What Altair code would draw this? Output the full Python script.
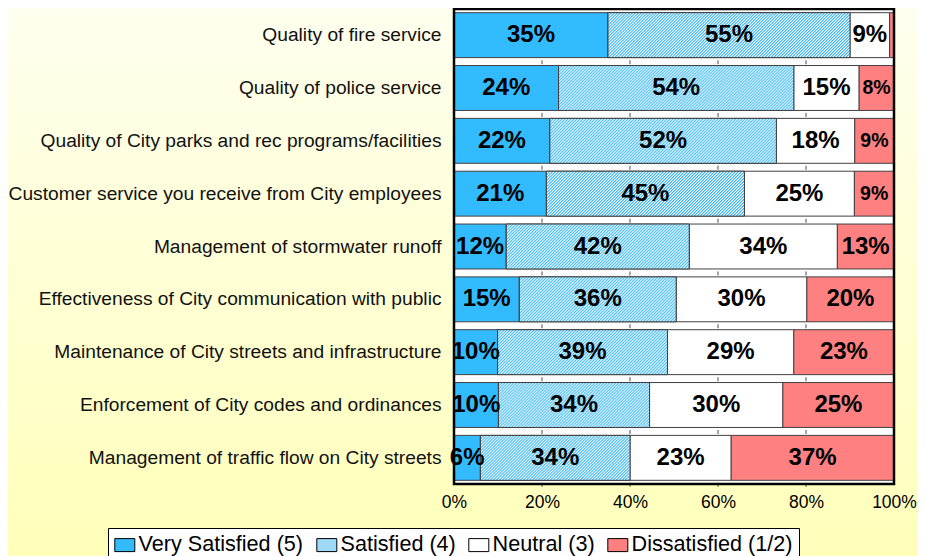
import urllib.parse
import altair as alt
import pandas as pd

# ---------------- data ----------------
questions = [
    "Quality of fire service",
    "Quality of police service",
    "Quality of City parks and rec programs/facilities",
    "Customer service you receive from City employees",
    "Management of stormwater runoff",
    "Effectiveness of City communication with public",
    "Maintenance of City streets and infrastructure",
    "Enforcement of City codes and ordinances",
    "Management of traffic flow on City streets",
]
categories = ["Very Satisfied (5)", "Satisfied (4)", "Neutral (3)", "Dissatisfied (1/2)"]
very_satisfied = [35, 24, 22, 21, 12, 15, 10, 10, 6]
satisfied = [55, 54, 52, 45, 42, 36, 39, 34, 34]
neutral = [9, 15, 18, 25, 34, 30, 29, 30, 23]
dissatisfied = [1, 8, 9, 9, 13, 20, 23, 25, 37]
x_tick_values = [0, 0.2, 0.4, 0.6, 0.8, 1.0]
inner_tick_values = [0.2, 0.4, 0.6, 0.8]

series = [very_satisfied, satisfied, neutral, dissatisfied]
rows = []
for qi, q in enumerate(questions):
    for ci, c in enumerate(categories):
        rows.append({"question": q, "category": c, "order": ci, "value": series[ci][qi]})
df = pd.DataFrame(rows)

tick_df = pd.DataFrame([{"question": q, "pos": t} for q in questions for t in inner_tick_values])

# ---------------- styles ----------------
W, H = 440, 475
FONT = "Liberation Sans"
BLUE = "#33BBFF"
RED = "#FF8080"
HATCH_BLUE = "#33B5F8"
colors = [BLUE, "#9ED9F8", "#FFFFFF", RED]

# diagonal hatch tile as an SVG image (no intrinsic size -> tiles at 1:1)
hatch_svg = (
    "<svg xmlns='http://www.w3.org/2000/svg'>"
    "<defs><pattern id='p' width='2.12' height='10' patternUnits='userSpaceOnUse' "
    "patternTransform='rotate(45)'>"
    f"<rect x='0' y='0' width='1.06' height='10' fill='{HATCH_BLUE}'/></pattern></defs>"
    "<rect width='100%' height='100%' fill='white'/>"
    "<rect width='100%' height='100%' fill='url(#p)'/></svg>"
)
hatch_url = "data:image/svg+xml;charset=utf-8," + urllib.parse.quote(hatch_svg)

bg_grad = {
    "gradient": "linear", "x1": 0, "y1": 0, "x2": 0, "y2": 1,
    "stops": [{"offset": 0, "color": "#FFFFF0"}, {"offset": 1, "color": "#FFFFB8"}],
}

x_axis = alt.Axis(title=None, format=".0%", values=x_tick_values, zindex=1, labelFlush=False)
y_axis = alt.Axis(title=None, zindex=1)
x_scale = alt.Scale(domain=[0, 1], nice=False, zero=True)
y_scale = alt.Scale(paddingInner=0.15, paddingOuter=0.07)


def X(field):
    return alt.X(field, scale=x_scale, axis=x_axis)


def Y():
    return alt.Y("question:N", sort=questions, scale=y_scale, axis=y_axis)


one = alt.Data(values=[{"a": 1}])

background = alt.Chart(one).mark_rect(fill=bg_grad).encode(
    x=alt.value(-460), x2=alt.value(W + 40), y=alt.value(-10), y2=alt.value(H + 90)
)
plot_bg = alt.Chart(one).mark_rect(fill="white").encode(
    x=alt.value(0), x2=alt.value(W), y=alt.value(0), y2=alt.value(H)
)

base = alt.Chart(df).transform_stack(
    stack="value", groupby=["question"], as_=["x0", "x1"], offset="normalize",
    sort=[alt.SortField("order", order="ascending")],
).transform_calculate(mid="(datum.x0 + datum.x1) / 2", label="datum.value + '%'")

bars = base.mark_bar(stroke="#404040", strokeWidth=1).encode(
    x=X("x0:Q"), x2="x1:Q", y=Y(),
    color=alt.Color(
        "category:N", sort=categories,
        scale=alt.Scale(domain=categories, range=colors),
        legend=alt.Legend(
            title=None, orient="none", legendX=-346, legendY=519, direction="horizontal",
            fillColor="white", strokeColor="black", padding=6,
            labelFont=FONT, labelFontSize=21.6, labelColor="black", labelLimit=400,
            labelOffset=3, columnPadding=10,
            symbolType="M-1,-0.65H1V0.65H-1Z", symbolSize=400,
            symbolStrokeColor="black", symbolStrokeWidth=1, symbolOpacity=1,
        ),
    ),
)

hatched = base.transform_filter("datum.order == 1").mark_image(aspect=False).encode(
    x=X("x0:Q"), x2="x1:Q", y=Y(), url=alt.value(hatch_url)
)
hatched_edge = base.transform_filter("datum.order == 1").mark_bar(
    fill=None, stroke="#404040", strokeWidth=1
).encode(x=X("x0:Q"), x2="x1:Q", y=Y())

ticks = alt.Chart(tick_df).mark_tick(
    color="black", thickness=1, size=4, yOffset=27
).encode(x=X("pos:Q"), y=Y())

labels = base.transform_filter("datum.value >= 2").mark_text(
    font=FONT, fontWeight="bold", color="black", align="center", baseline="middle"
).encode(
    x=X("mid:Q"), y=Y(), text="label:N",
    size=alt.condition("datum.order == 3 && datum.value < 10", alt.value(19.5), alt.value(24)),
)

border = alt.Chart(one).mark_rect(fill=None, stroke="black", strokeWidth=2.5).encode(
    x=alt.value(0), x2=alt.value(W), y=alt.value(0), y2=alt.value(H)
)

chart = alt.layer(
    background, plot_bg, bars, hatched, hatched_edge, ticks, labels, border
).properties(
    width=W, height=H,
    padding={"left": 446, "top": 1, "right": 23, "bottom": 80},
    autosize=alt.AutoSizeParams(type="none"),
    background="#FFFFF0",
).configure_view(strokeWidth=0, fill=None).configure_axisX(
    labelFont=FONT, labelFontSize=17.5, labelColor="black", domain=False, ticks=False,
    grid=False, labelPadding=9,
).configure_axisY(
    labelFont=FONT, labelFontSize=19.2, labelColor="#111111", domain=False, ticks=False,
    grid=False, labelPadding=13, labelLimit=600,
)

chart.save("out.html", embed_options={"renderer": "svg", "actions": False})
